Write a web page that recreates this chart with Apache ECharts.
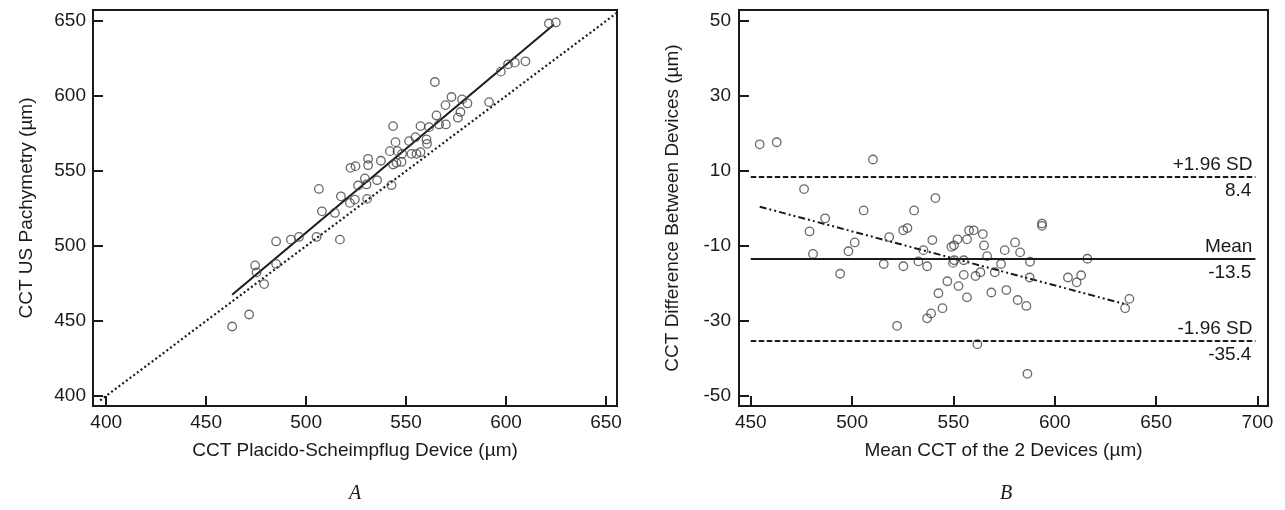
<!DOCTYPE html>
<html>
<head>
<meta charset="utf-8">
<script src="https://cdn.jsdelivr.net/npm/echarts@6/dist/echarts.min.js"></script>
<style>
html,body{margin:0;padding:0;background:#fff;}
#chart{width:1285px;height:510px;}
</style>
</head>
<body>
<div id="chart"></div>
<script>
// ---------- Panel A: CCT Placido-Scheimpflug (x) vs CCT US Pachymetry (y) ----------
var psCCT = [463, 471.5, 474.5, 475.2, 479, 485, 485, 492.4, 496.4, 505.2, 506.4, 507.9, 514.4, 516.9, 517.4, 521.9, 522.2, 524.7, 524.4, 526, 529.4, 530.2, 531, 531, 530.5, 535.5, 537.4, 541.9, 542.7, 543.5, 543.5, 544.7, 545.2, 545.7, 547.7, 548, 551.5, 552.7, 554.7, 555.2, 557.2, 557.2, 560.2, 560.5, 561.5, 564.4, 565.2, 566.5, 569.7, 569.9, 572.7, 575.9, 577.2, 578, 580.7, 591.5, 597.4, 601, 604.4, 609.7, 621.4, 624.9];
var usCCT = [446.3, 454.3, 487, 482.4, 474.6, 503, 488, 504.2, 506, 506, 538, 523.1, 522, 504.2, 533.1, 528.7, 552.1, 553.2, 530.9, 540.3, 545, 541, 553.8, 558.1, 531.4, 543.8, 556.8, 563.2, 540.5, 579.9, 554.3, 569.2, 555.4, 563.2, 556, 561.4, 569.9, 561.4, 572.5, 561.4, 562.5, 579.9, 571, 568.1, 579.2, 609.3, 587, 581, 593.9, 581, 599.3, 585.5, 589.3, 597.7, 595, 595.9, 616.2, 621.1, 622.2, 623.1, 648.3, 649];
var regAX = [463, 624];
var regAY = [467.4, 647.7];
var identityXY = [397, 655.5];
var ticksA = [400, 450, 500, 550, 600, 650];

// ---------- Panel B: Bland-Altman ----------
var meanCCT = [454.4, 462.8, 510.3, 476.3, 541.1, 486.7, 505.7, 530.6, 479, 480.7, 527.3, 525.2, 518.3, 501.3, 498.2, 494.1, 515.6, 525.3, 532.7, 537, 535.2, 539.6, 522.2, 537, 539, 544.6, 542.6, 547, 552.5, 549.8, 550.4, 549, 550.3, 552, 555.1, 555.1, 556.7, 556.7, 557.7, 560, 564.5, 565.1, 566.6, 560.9, 563.3, 561.8, 568.7, 570.4, 573.5, 575.3, 576.1, 580.4, 582.9, 581.7, 586, 587.8, 587.6, 586.5, 593.7, 593.7, 606.5, 610.8, 613, 616.1, 634.7, 636.8];
var diffCCT = [17.15, 17.7, 13.1, 5.2, 2.8, -2.6, -0.5, -0.5, -6.1, -12.1, -5.2, -5.8, -7.6, -9.05, -11.4, -17.4, -14.8, -15.4, -14.1, -15.4, -11.1, -8.4, -31.3, -29.3, -28.0, -26.6, -22.6, -19.4, -20.7, -14.5, -13.8, -10.2, -9.8, -8.2, -13.8, -17.7, -8.2, -23.7, -5.8, -5.8, -6.8, -9.85, -12.7, -18.0, -17.0, -36.2, -22.4, -17.0, -14.8, -11.1, -21.75, -9.05, -11.7, -24.4, -26.0, -14.2, -18.4, -44.1, -4.0, -4.6, -18.4, -19.7, -17.8, -13.4, -26.6, -24.1];
var regBX = [454.4, 636];
var regBY = [0.5, -25.7];
var limitValues = [8.4, -13.5, -35.4];
var limitNames = ['+1.96 SD', 'Mean', '-1.96 SD'];
var limitTexts = ['8.4', '-13.5', '-35.4'];
var limitSpan = [450, 699];
var ticksBX = [450, 500, 550, 600, 650, 700];
var ticksBY = [-50, -30, -10, 10, 30, 50];

var panelLabels = ['A', 'B'];

// ---------- build ----------
var INK = '#1a1a1a';
var PT = '#444444';
var FONT = "'Liberation Sans', Arial, Helvetica, sans-serif";
var FS = 19;

function zip(a, b) { return a.map(function (v, i) { return [v, b[i]]; }); }

function axisCommon(ticks, name, gap) {
  return {
    type: 'value',
    name: name,
    nameLocation: 'middle',
    nameGap: gap,
    nameTextStyle: { fontFamily: FONT, fontSize: FS, color: INK },
    axisLine: { show: false, onZero: false },
    axisTick: { show: true, inside: true, length: 10, customValues: ticks, lineStyle: { color: INK, width: 2 } },
    axisLabel: { show: true, customValues: ticks, fontFamily: FONT, fontSize: FS, color: INK, margin: 7 },
    splitLine: { show: false }
  };
}

var gridStyle = { show: true, borderColor: INK, borderWidth: 2, backgroundColor: 'transparent', containLabel: false };

var xA = axisCommon(ticksA, 'CCT Placido-Scheimpflug Device (\u00b5m)', 35);
xA.gridIndex = 0; xA.min = 393.4; xA.max = 655.5;
var yA = axisCommon(ticksA, 'CCT US Pachymetry (\u00b5m)', 57);
yA.gridIndex = 0; yA.min = 393.3; yA.max = 657.3;
var xB = axisCommon(ticksBX, 'Mean CCT of the 2 Devices (\u00b5m)', 35);
xB.gridIndex = 1; xB.min = 444.2; xB.max = 705.2;
var yB = axisCommon(ticksBY, 'CCT Difference Between Devices (\u00b5m)', 57);
yB.gridIndex = 1; yB.min = -52.7; yB.max = 53.0; yB.axisLabel.margin = 8;

var limitTypes = [[5.5, 2.5], 'solid', [5.5, 2.5]];
var markData = [];
limitValues.forEach(function (v, i) {
  markData.push([
    { coord: [limitSpan[0], v], lineStyle: { type: limitTypes[i], width: 2, color: INK } },
    { coord: [limitSpan[1], v], label: { show: true, position: 'insideEndTop', formatter: limitNames[i], distance: 3 } }
  ]);
  markData.push([
    { coord: [limitSpan[0], v], lineStyle: { width: 0, color: 'rgba(0,0,0,0)' } },
    { coord: [limitSpan[1], v], label: { show: true, position: 'insideEndBottom', formatter: limitTexts[i], distance: 4 } }
  ]);
});

var scatterStyle = { color: 'rgba(0,0,0,0)', borderColor: PT, borderWidth: 1.3 };

var option = {
  animation: false,
  backgroundColor: '#fff',
  title: [
    { text: panelLabels[0], left: 350, top: 479, textAlign: 'center',
      textStyle: { fontFamily: "'Liberation Serif', 'Times New Roman', serif", fontStyle: 'italic', fontWeight: 'normal', fontSize: 20, color: INK } },
    { text: panelLabels[1], left: 1001, top: 479, textAlign: 'center',
      textStyle: { fontFamily: "'Liberation Serif', 'Times New Roman', serif", fontStyle: 'italic', fontWeight: 'normal', fontSize: 20, color: INK } }
  ],
  grid: [
    Object.assign({ left: 93, top: 10, width: 524, height: 396 }, gridStyle),
    Object.assign({ left: 739, top: 10, width: 529, height: 396 }, gridStyle)
  ],
  xAxis: [xA, xB],
  yAxis: [yA, yB],
  series: [
    { type: 'line', xAxisIndex: 0, yAxisIndex: 0, data: [[identityXY[0], identityXY[0]], [identityXY[1], identityXY[1]]],
      symbol: 'none', silent: true, lineStyle: { color: INK, width: 2.2, type: [2, 2.6] }, z: 2 },
    { type: 'line', xAxisIndex: 0, yAxisIndex: 0, data: zip(regAX, regAY),
      symbol: 'none', silent: true, lineStyle: { color: INK, width: 2, type: 'solid' }, z: 2 },
    { type: 'scatter', xAxisIndex: 0, yAxisIndex: 0, data: zip(psCCT, usCCT),
      symbol: 'circle', symbolSize: 8.5, itemStyle: scatterStyle, z: 3 },
    { type: 'line', xAxisIndex: 1, yAxisIndex: 1, data: zip(regBX, regBY),
      symbol: 'none', silent: true, lineStyle: { color: INK, width: 2, type: [7, 3, 2, 3, 2, 3] }, z: 2 },
    { type: 'scatter', xAxisIndex: 1, yAxisIndex: 1, data: zip(meanCCT, diffCCT),
      symbol: 'circle', symbolSize: 8.5, itemStyle: scatterStyle, z: 3,
      markLine: {
        silent: true, symbol: ['none', 'none'], animation: false,
        label: { fontFamily: FONT, fontSize: FS, color: INK },
        data: markData
      }
    }
  ]
};

var chart = echarts.init(document.getElementById('chart'), null, { renderer: 'canvas' });
chart.setOption(option);
</script>
</body>
</html>
